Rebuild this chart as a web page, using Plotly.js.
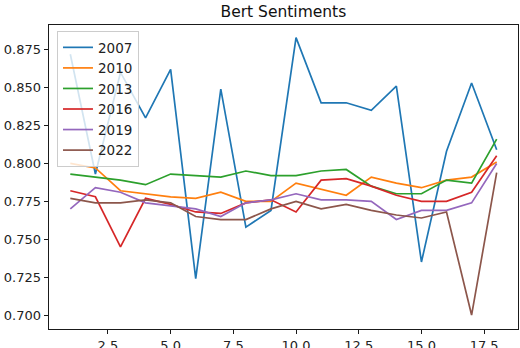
<!DOCTYPE html>
<html>
<head>
<meta charset="utf-8">
<script src="https://cdn.plot.ly/plotly-3.0.1.min.js"></script>
<style>html,body{margin:0;padding:0;background:#fff;}#chart{width:520px;height:348px;}</style>
</head>
<body>
<div id="chart"></div>
<script>
const xs = [1,2,3,4,5,6,7,8,9,10,11,12,13,14,15,16,17,18];
const seriesNames = ["2007","2010","2013","2016","2019","2022"];
const y2007 = [0.872,0.793,0.860,0.830,0.862,0.724,0.849,0.758,0.769,0.883,0.840,0.840,0.835,0.851,0.735,0.808,0.853,0.809];
const y2010 = [0.800,0.797,0.782,0.780,0.778,0.777,0.781,0.775,0.775,0.787,0.783,0.779,0.791,0.787,0.784,0.789,0.791,0.801];
const y2013 = [0.793,0.791,0.789,0.786,0.793,0.792,0.791,0.795,0.792,0.792,0.795,0.796,0.785,0.780,0.780,0.789,0.787,0.816];
const y2016 = [0.782,0.778,0.745,0.777,0.773,0.768,0.767,0.774,0.776,0.768,0.789,0.790,0.785,0.779,0.775,0.775,0.781,0.805];
const y2019 = [0.770,0.784,0.781,0.774,0.772,0.770,0.765,0.774,0.776,0.780,0.776,0.776,0.775,0.763,0.769,0.769,0.774,0.800];
const y2022 = [0.777,0.774,0.774,0.776,0.774,0.765,0.763,0.763,0.770,0.775,0.770,0.773,0.769,0.766,0.764,0.768,0.700,0.794];
const xTicks = [2.5,5.0,7.5,10.0,12.5,15.0,17.5];
const yTicks = [0.700,0.725,0.750,0.775,0.800,0.825,0.850,0.875];

const colors = ["#1f77b4","#ff7f0e","#2ca02c","#d62728","#9467bd","#8c564b"];
const ys = [y2007,y2010,y2013,y2016,y2019,y2022];
const traces = ys.map((y,i)=>({
  x: xs, y: y, name: seriesNames[i], type: "scatter", mode: "lines",
  line: {color: colors[i], width: 1.7}
}));

const font = "DejaVu Sans, sans-serif";
const layout = {
  width: 520, height: 348,
  margin: {l: 49, r: 2, t: 25, b: 19, pad: 0},
  paper_bgcolor: "#fff", plot_bgcolor: "#fff",
  title: {text: "Bert Sentiments", font: {family: font, size: 15.5, color: "#111"}, x: 0.545, xanchor: "center", y: 0.968, yanchor: "middle"},
  font: {family: font, size: 13, color: "#222"},
  xaxis: {range: [0.15, 18.85], tickvals: xTicks, ticktext: xTicks.map(v=>v.toFixed(1)),
    showgrid: false, zeroline: false, showline: true, mirror: true, linecolor: "#1a1a1a", linewidth: 1.4,
    ticks: "outside", ticklen: 4, tickcolor: "#1a1a1a", tickfont: {family: font, size: 13, color: "#222"}},
  yaxis: {range: [0.6908, 0.8913], tickvals: yTicks, ticktext: yTicks.map(v=>v.toFixed(3)),
    showgrid: false, zeroline: false, showline: true, mirror: true, linecolor: "#1a1a1a", linewidth: 1.4,
    ticks: "outside", ticklen: 4, tickcolor: "#1a1a1a", tickfont: {family: font, size: 13, color: "#222"}},
  legend: {x: 0.017, y: 0.98, xanchor: "left", yanchor: "top",
    bgcolor: "rgba(255,255,255,0.8)", bordercolor: "#cccccc", borderwidth: 1,
    font: {family: font, size: 13.5, color: "#222"}},
  showlegend: true
};
Plotly.newPlot("chart", traces, layout, {displayModeBar: false, staticPlot: true});
</script>
</body>
</html>
